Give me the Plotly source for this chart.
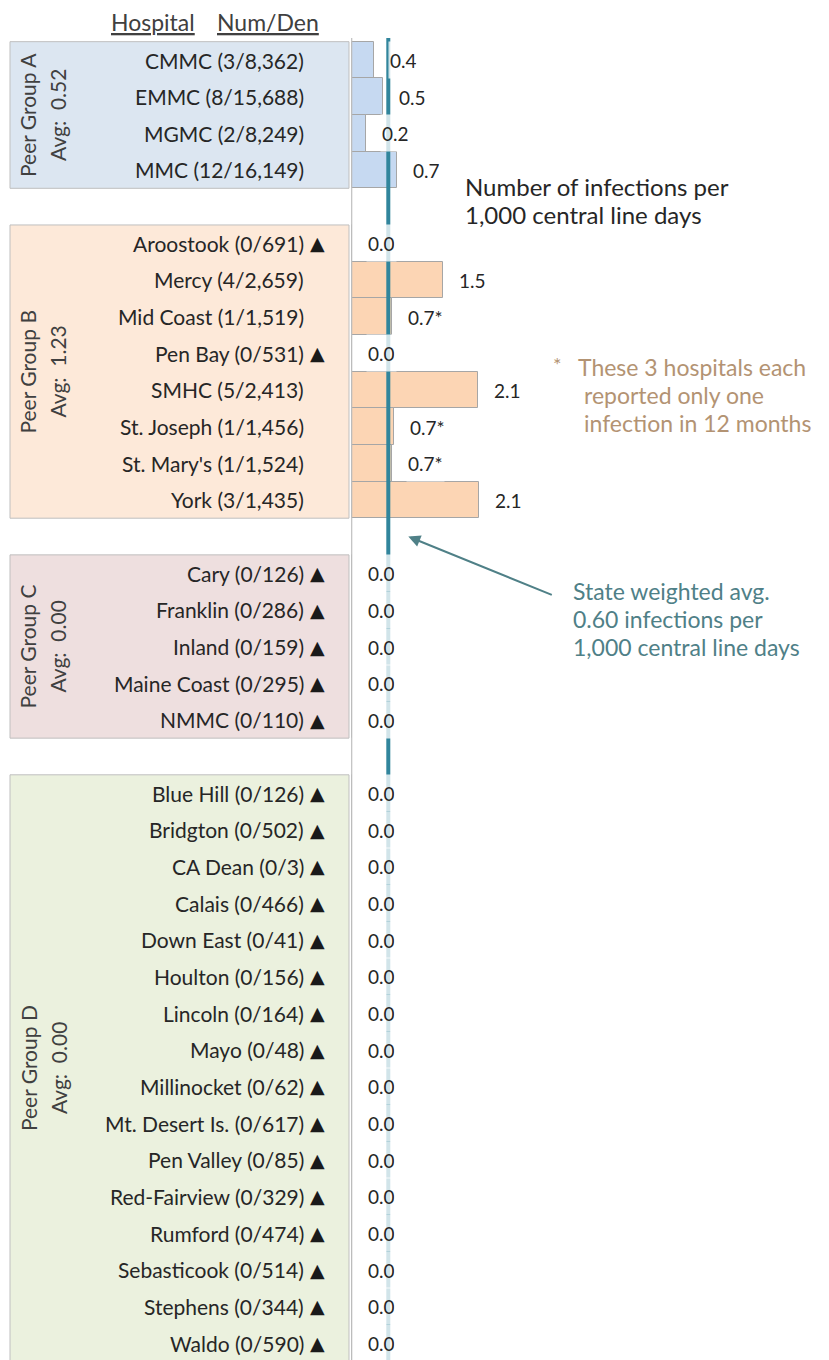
import plotly.graph_objects as go

# ==========================================================
# DATA
# ==========================================================
GROUPS = ["A", "B", "C", "D"]
GROUP_AVG = [0.52, 1.23, 0.00, 0.00]

GROUP_A = ["CMMC", "EMMC", "MGMC", "MMC"]
NUM_A = [3, 8, 2, 12]
DEN_A = [8362, 15688, 8249, 16149]
RATE_A = [0.36, 0.51, 0.24, 0.74]

GROUP_B = ["Aroostook", "Mercy", "Mid Coast", "Pen Bay", "SMHC",
           "St. Joseph", "St. Mary's", "York"]
NUM_B = [0, 4, 1, 0, 5, 1, 1, 3]
DEN_B = [691, 2659, 1519, 531, 2413, 1456, 1524, 1435]
RATE_B = [0.0, 1.50, 0.66, 0.0, 2.07, 0.69, 0.66, 2.09]
STAR_B = [False, False, True, False, False, True, True, False]

GROUP_C = ["Cary", "Franklin", "Inland", "Maine Coast", "NMMC"]
NUM_C = [0, 0, 0, 0, 0]
DEN_C = [126, 286, 159, 295, 110]
RATE_C = [0.0, 0.0, 0.0, 0.0, 0.0]

GROUP_D = ["Blue Hill", "Bridgton", "CA Dean", "Calais", "Down East",
           "Houlton", "Lincoln", "Mayo", "Millinocket", "Mt. Desert Is.",
           "Pen Valley", "Red-Fairview", "Rumford", "Sebasticook",
           "Stephens", "Waldo"]
NUM_D = [0] * 16
DEN_D = [126, 502, 3, 466, 41, 156, 164, 48, 62, 617, 85, 329, 474, 514,
         344, 590]
RATE_D = [0.0] * 16

STATE_AVG = 0.60

# ==========================================================
# STYLE / LAYOUT
# ==========================================================
OFF = 8                     # page body margin
W, H = 829 - OFF, 1360 - OFF
FONT = "Lato"
PANEL_COLORS = ["#dce6f1", "#fde9d9", "#eedfdf", "#ebf1de"]
BAR_COLORS = ["#c6d9f1", "#fcd5b4", "#e6b9b8", "#d7e4bc"]
TEAL = "#31859c"
NOTE_TEAL = "#4f8087"
NOTE_TAN = "#b39373"

X0_PX = 351.7 - OFF         # pixel position of x = 0
PX_PER_UNIT = 61.0
ROW0_PX = 60.0 - OFF        # pixel centre of the first row
ROW_PX = 36.657             # row pitch


def fx(px):
    return (px - OFF) / W


def fy(px):
    return 1 - (px - OFF) / H


groups = [
    (GROUP_A, NUM_A, DEN_A, RATE_A, [False] * 4),
    (GROUP_B, NUM_B, DEN_B, RATE_B, STAR_B),
    (GROUP_C, NUM_C, DEN_C, RATE_C, [False] * 5),
    (GROUP_D, NUM_D, DEN_D, RATE_D, [False] * 16),
]

fig = go.Figure()
annotations = []
shapes = []

row = 0
for gi, (names, nums, dens, rates, stars) in enumerate(groups):
    rows = list(range(row, row + len(names)))
    mid = (rows[0] + rows[-1]) / 2

    # background panel for the peer group
    shapes.append(dict(
        type="rect", layer="below", xref="paper", yref="y",
        x0=fx(10), x1=fx(349), y0=rows[0] - 0.5, y1=rows[-1] + 0.5,
        fillcolor=PANEL_COLORS[gi], line=dict(color="#bfbfbf", width=1),
    ))

    fig.add_trace(go.Bar(
        x=rates, y=rows, orientation="h", width=1.0,
        marker=dict(color=BAR_COLORS[gi], line=dict(color="#a6a6a6", width=1)),
        showlegend=False, hoverinfo="skip",
    ))

    # group label (rotated, two columns)
    annotations.append(dict(
        xref="paper", yref="y", x=fx(28), y=mid,
        text=f"Peer Group {GROUPS[gi]}", textangle=-90, showarrow=False,
        xanchor="center", yanchor="middle",
        font=dict(family=FONT, size=21, color="#404040"),
    ))
    annotations.append(dict(
        xref="paper", yref="y", x=fx(58), y=mid,
        text=f"Avg:  {GROUP_AVG[gi]:.2f}", textangle=-90, showarrow=False,
        xanchor="center", yanchor="middle",
        font=dict(family=FONT, size=21, color="#404040"),
    ))

    for r, name, n, d, v, s in zip(rows, names, nums, dens, rates, stars):
        annotations.append(dict(
            xref="paper", yref="y", x=fx(306), y=r,
            text=f"{name} ({n}/{d:,})", showarrow=False,
            xanchor="right", yanchor="middle",
            font=dict(family=FONT, size=21, color="#262626"),
        ))
        if n == 0:
            annotations.append(dict(
                xref="paper", yref="y", x=fx(317), y=r, text="▲",
                showarrow=False, xanchor="center", yanchor="middle",
                font=dict(family="DejaVu Sans", size=19, color="#1a1a1a"),
            ))
        annotations.append(dict(
            xref="x", yref="y", x=v, y=r,
            text=f"{v:.1f}" + ("*" if s else ""), showarrow=False,
            xanchor="left", yanchor="middle", xshift=14, height=34,
            bgcolor="rgba(255,255,255,0.78)", borderpad=1,
            font=dict(family=FONT, size=19, color="#262626"),
        ))
    row += len(names) + 1

gap_b_c = len(GROUP_A) + 1 + len(GROUP_B)

# zero axis and state weighted average line
shapes.append(dict(type="line", xref="x", yref="paper", x0=0, x1=0,
                   y0=0, y1=fy(38), line=dict(color="#bfbfbf", width=1.2)))
shapes.append(dict(type="line", xref="x", yref="paper", x0=STATE_AVG,
                   x1=STATE_AVG, y0=0, y1=fy(38),
                   line=dict(color=TEAL, width=4)))

# header
annotations.append(dict(xref="paper", yref="paper", x=fx(153), y=fy(22),
                        text="<u>Hospital</u>", showarrow=False,
                        xanchor="center", yanchor="middle",
                        font=dict(family=FONT, size=23, color="#404040")))
annotations.append(dict(xref="paper", yref="paper", x=fx(268), y=fy(22),
                        text="<u>Num/Den</u>", showarrow=False,
                        xanchor="center", yanchor="middle",
                        font=dict(family=FONT, size=23, color="#404040")))

# side notes, one annotation per line
notes = [
    (465, 186, "Number of infections per", "#262626", 24),
    (465, 215, "1,000 central line days", "#262626", 24),
    (553, 364, "*", NOTE_TAN, 20),
    (578, 367, "These 3 hospitals each", NOTE_TAN, 23),
    (584, 395, "reported only one", NOTE_TAN, 23),
    (584, 423, "infection in 12 months", NOTE_TAN, 23),
    (573, 591, "State weighted avg.", NOTE_TEAL, 23),
    (573, 619, "0.60 infections per", NOTE_TEAL, 23),
    (573, 647, "1,000 central line days", NOTE_TEAL, 23),
]
for px, py, txt, col, size in notes:
    annotations.append(dict(
        xref="paper", yref="paper", x=fx(px), y=fy(py), text=txt,
        showarrow=False, xanchor="left", yanchor="middle",
        borderpad=0, borderwidth=0,
        font=dict(family=FONT, size=size, color=col),
    ))

annotations.append(dict(
    xref="x", yref="y", x=STATE_AVG, y=gap_b_c, xshift=20, text="",
    showarrow=True, ax=145, ay=59, arrowhead=2, arrowsize=1.2,
    arrowwidth=2, arrowcolor=NOTE_TEAL,
))

fig.update_layout(
    width=W, height=H,
    margin=dict(l=0, r=0, t=0, b=0),
    paper_bgcolor="white", plot_bgcolor="white",
    bargap=0, barmode="overlay",
    shapes=shapes, annotations=annotations,
    xaxis=dict(range=[-X0_PX / PX_PER_UNIT, (W - X0_PX) / PX_PER_UNIT],
               visible=False, fixedrange=True),
    yaxis=dict(range=[(H - ROW0_PX) / ROW_PX, -ROW0_PX / ROW_PX],
               visible=False, fixedrange=True),
)

fig.write_html("out.html")
